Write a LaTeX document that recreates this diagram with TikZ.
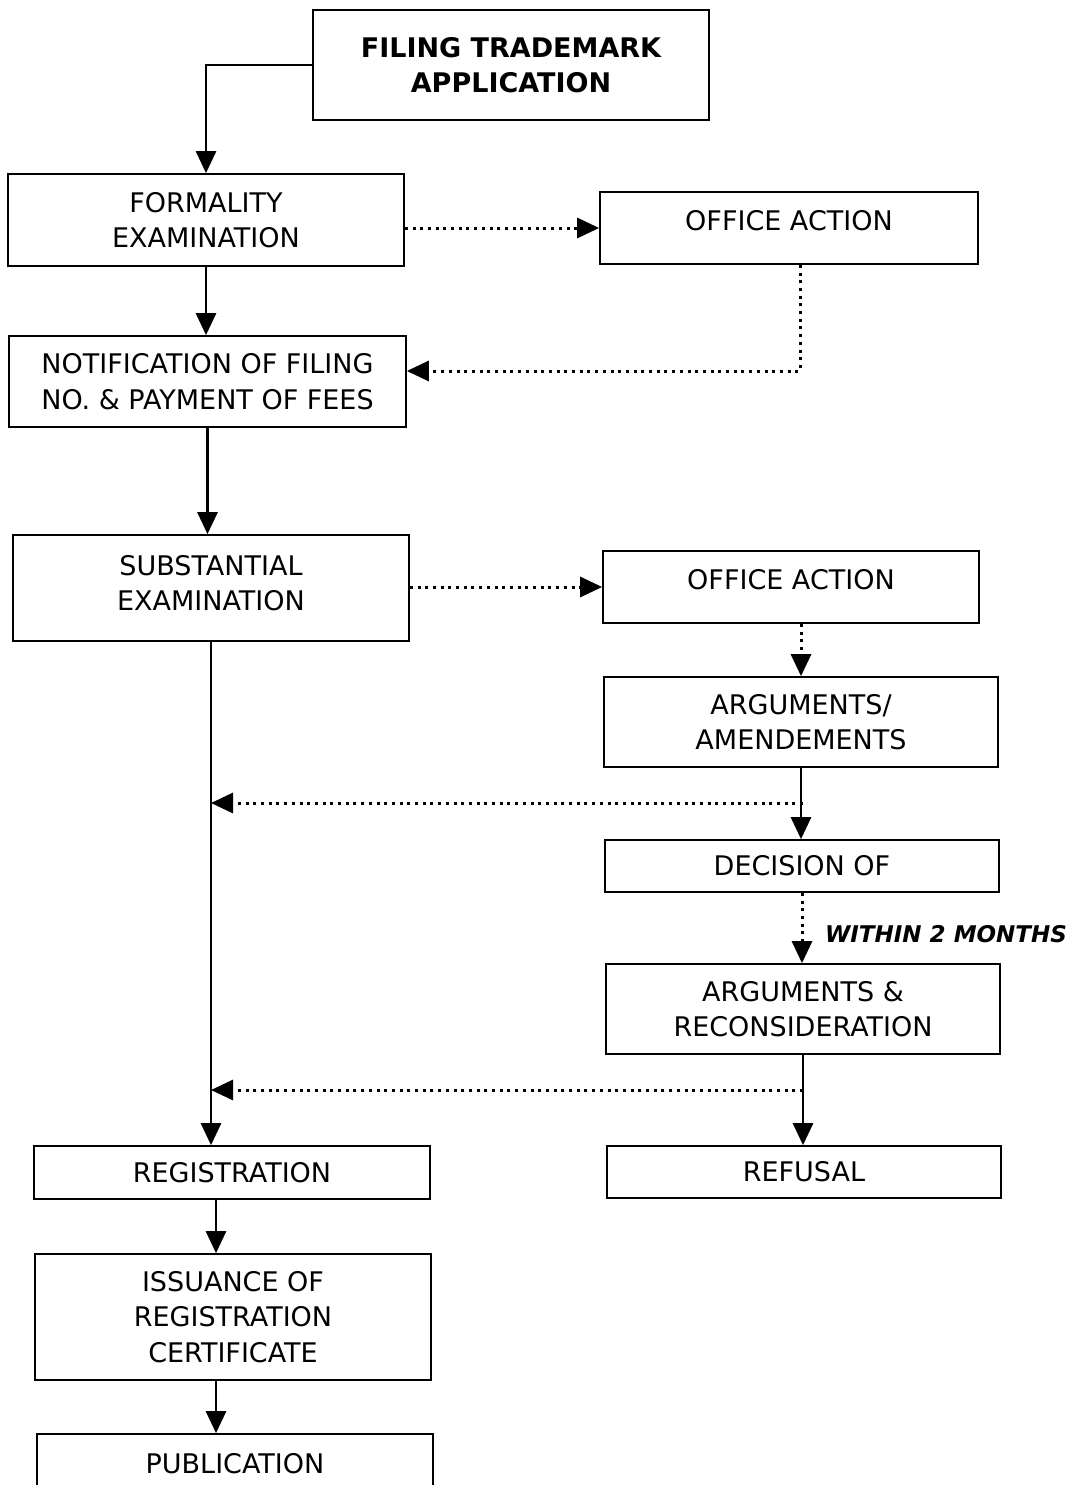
\documentclass[tikz,border=0pt]{standalone}
\usepackage{fontspec}
\setmainfont{DejaVu Sans}
\usetikzlibrary{arrows.meta}
% lift a line of text without changing the size TikZ sees
\newcommand{\liftby}[2]{\raisebox{#1}[\height][\depth]{#2}}
\begin{document}
\begin{tikzpicture}[x=1pt,y=-1pt,
  box/.style={draw, line width=1.7pt, inner sep=0pt, align=center,
    font=\fontsize{27}{35.5}\selectfont},
  arr/.style={line width=2.8pt, -{Triangle[length=22pt,width=20pt]}},
  darr/.style={line width=3pt, dash pattern=on 3pt off 4.7pt,
    -{Triangle[length=22pt,width=20pt]}},
  note/.style={font=\fontsize{23}{26}\selectfont\bfseries\itshape}]
\useasboundingbox (0,0) rectangle (1076,1485);
\clip (0,0) rectangle (1076,1485);

% boxes
\node[box, minimum width=396pt, minimum height=110pt, font=\fontsize{27}{35.5}\selectfont\bfseries]
  (file) at (511,65) {FILING TRADEMARK\\APPLICATION};
\node[box, minimum width=396pt, minimum height=92pt] (form) at (206,220) {FORMALITY\\EXAMINATION};
\node[box, minimum width=378pt, minimum height=72pt] (oa1) at (789,228) {\liftby{7pt}{OFFICE ACTION}};
\node[box, minimum width=397pt, minimum height=91pt] (notif) at (207.5,381.5)
  {NOTIFICATION OF FILING\\NO. \& PAYMENT OF FEES};
\node[box, minimum width=396pt, minimum height=106pt] (subst) at (211,588)
  {\liftby{5pt}{SUBSTANTIAL}\\\liftby{5pt}{EXAMINATION}};
\node[box, minimum width=376pt, minimum height=72pt] (oa2) at (791,587) {\liftby{7pt}{OFFICE ACTION}};
\node[box, minimum width=394pt, minimum height=90pt] (argam) at (801,722) {ARGUMENTS/\\AMENDEMENTS};
\node[box, minimum width=394pt, minimum height=52pt] (dec) at (802,866) {DECISION OF};
\node[box, minimum width=394pt, minimum height=90pt] (argrec) at (803,1009) {ARGUMENTS \&\\RECONSIDERATION};
\node[box, minimum width=396pt, minimum height=53pt] (reg) at (232,1172.5) {REGISTRATION};
\node[box, minimum width=394pt, minimum height=52pt] (ref) at (804,1172) {REFUSAL};
\node[box, minimum width=396pt, minimum height=126pt] (iss) at (233,1317)
  {ISSUANCE OF\\REGISTRATION\\CERTIFICATE};
\node[box, minimum width=396pt, minimum height=60pt] (pub) at (235,1464) {PUBLICATION};

\node[note] (within) at (946,934) {WITHIN 2 MONTHS};

% helper coordinates
\coordinate (k1) at (800,371);
\coordinate (j1) at (803,803);
\coordinate (j2) at (803,1090);
\coordinate (c2) at (216,0);

% main flow
\draw[arr] (file.west) -| (form.north);
\draw[arr] (form.south) -- (form.south |- notif.north);
\draw[arr] (notif.south) -- (notif.south |- subst.north);
\draw[arr] (subst.south) -- (subst.south |- reg.north);
\draw[arr] (reg.south -| c2) -- (iss.north -| c2);
\draw[arr] (iss.south -| c2) -- (pub.north -| c2);

% office action branches
\draw[darr] (form.east |- oa1.west) -- (oa1.west);
\draw[darr] (oa1.south -| k1) -- (k1) -- (k1 -| notif.east);
\draw[darr] (subst.east |- oa2.west) -- (oa2.west);
\draw[darr] (argam.north |- oa2.south) -- (argam.north);
\draw[arr] (argam.south) -- (argam.south |- dec.north);
\draw[darr] (j1) -- (j1 -| subst.south);
\draw[darr] (dec.south) -- (dec.south |- argrec.north);
\draw[arr] (argrec.south) -- (argrec.south |- ref.north);
\draw[darr] (j2) -- (j2 -| subst.south);
\end{tikzpicture}
\end{document}
